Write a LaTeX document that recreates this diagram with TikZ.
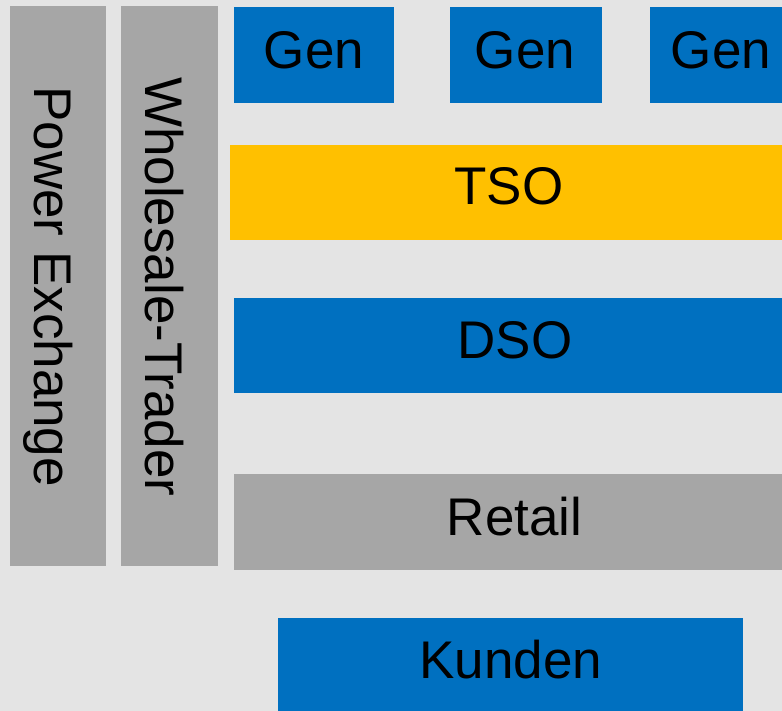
\documentclass[tikz,border=0pt]{standalone}
\usepackage{fontspec}
\setmainfont{Liberation Sans}
\definecolor{bgc}{HTML}{E4E4E4}
\definecolor{blu}{HTML}{0070C0}
\definecolor{gld}{HTML}{FFC000}
\definecolor{gry}{HTML}{A6A6A6}
\begin{document}
\begin{tikzpicture}[x=1pt,y=1pt,
  blk/.style={rectangle, inner sep=0pt, outer sep=0pt, draw=none},
  txt/.style={inner sep=0pt, outer sep=0pt, anchor=base, text=black, font=\fontsize{53}{60}\selectfont}]
\fill[bgc] (0,0) rectangle (782,711);
\useasboundingbox (0,0) rectangle (782,711);
% boxes
\node[blk, fill=gry, minimum width=96pt, minimum height=560pt] (pex) at (58,425) {};
\node[blk, fill=gry, minimum width=97pt, minimum height=560pt] (wst) at (169.5,425) {};
\node[blk, fill=blu, minimum width=160pt, minimum height=96pt] (gen1) at (314,656) {};
\node[blk, fill=blu, minimum width=152pt, minimum height=96pt] (gen2) at (526,656) {};
\node[blk, fill=blu, minimum width=132pt, minimum height=96pt] (gen3) at (716,656) {};
\node[blk, fill=gld, minimum width=552pt, minimum height=95pt] (tso) at (506,518.5) {};
\node[blk, fill=blu, minimum width=548pt, minimum height=95pt] (dso) at (508,365.5) {};
\node[blk, fill=gry, minimum width=548pt, minimum height=96pt] (ret) at (508,189) {};
\node[blk, fill=blu, minimum width=465pt, minimum height=93pt] (kun) at (510.5,46.5) {};
% texts
\node[txt, rotate=-90] (pext) at (35,424.3) {Power Exchange};
\node[txt, rotate=-90] (wstt) at (145,424.3) {Wholesale-Trader};
\node[txt] (gen1t) at (314,642) {Gen};
\node[txt] (gen2t) at (525,642) {Gen};
\node[txt] (gen3t) at (721,642) {Gen};
\node[txt] (tsot) at (509,506) {TSO};
\node[txt] (dsot) at (515,352) {DSO};
\node[txt] (rett) at (514.5,175) {Retail};
\node[txt] (kunt) at (511,32) {Kunden};
\end{tikzpicture}
\end{document}
